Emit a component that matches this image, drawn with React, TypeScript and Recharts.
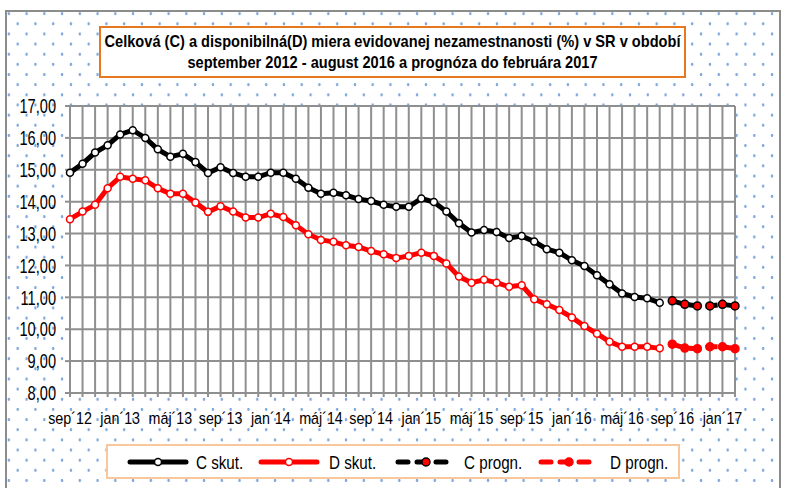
import { LineChart, Line, XAxis, YAxis, CartesianGrid } from 'recharts';

const months = ['sep', 'okt', 'nov', 'dec', 'jan', 'feb', 'mar', 'apr', 'máj', 'jún', 'júl', 'aug'];
const startYear = 12;
const monthCount = 54;

const categories: string[] = Array.from({ length: monthCount }, (_, i) => {
  const m = months[i % 12];
  const yr = startYear + Math.floor((i + 8) / 12);
  return `${m}´${yr}`;
});

// sep 2012 – aug 2016
const cSkut = [
  14.91, 15.19, 15.54, 15.77, 16.11, 16.24, 16.0, 15.64, 15.41, 15.5, 15.24, 14.9,
  15.08, 14.9, 14.78, 14.78, 14.91, 14.91, 14.72, 14.44, 14.25, 14.28, 14.2, 14.08,
  14.02, 13.9, 13.84, 13.84, 14.1, 13.99, 13.69, 13.32, 13.03, 13.11, 13.05, 12.86,
  12.92, 12.75, 12.51, 12.4, 12.16, 11.98, 11.69, 11.41, 11.12, 11.01, 10.97, 10.83,
];
const dSkut = [
  13.45, 13.69, 13.9, 14.42, 14.78, 14.72, 14.67, 14.42, 14.25, 14.25, 13.97, 13.68,
  13.86, 13.69, 13.5, 13.5, 13.62, 13.52, 13.26, 12.98, 12.8, 12.74, 12.63, 12.58,
  12.45, 12.35, 12.23, 12.3, 12.4, 12.3, 12.06, 11.65, 11.46, 11.55, 11.46, 11.33,
  11.38, 10.94, 10.78, 10.6, 10.37, 10.1, 9.86, 9.61, 9.45, 9.45, 9.45, 9.4,
];
// sep 2016 – feb 2017
const cProgn = [10.89, 10.78, 10.73, 10.73, 10.78, 10.73];
const dProgn = [9.53, 9.41, 9.39, 9.45, 9.45, 9.39];

const yTicks = [8, 9, 10, 11, 12, 13, 14, 15, 16, 17];

const titleLines = [
  'Celková (C) a disponibilná(D) miera evidovanej nezamestnanosti (%) v SR v období',
  'september 2012 - august 2016 a prognóza do februára 2017',
];

const data = categories.map((name, i) => ({
  name,
  cSkut: i < cSkut.length ? cSkut[i] : null,
  dSkut: i < dSkut.length ? dSkut[i] : null,
  cProgn: i >= cSkut.length ? cProgn[i - cSkut.length] : null,
  dProgn: i >= dSkut.length ? dProgn[i - dSkut.length] : null,
}));

const FONT = '"Liberation Sans", Arial, sans-serif';
const GRID = '#8f8f8f';

// no narrow font installed, so squeeze the glyphs horizontally
const XTick = (props: any) => {
  const { x, y, payload, index } = props;
  if (index % 4 !== 0) return null;
  return (
    <text
      transform={`translate(${x},${y}) scale(0.84,1)`}
      dy="0.71em"
      textAnchor="middle"
      fontSize={17}
      fill="#000"
      fontFamily={FONT}
    >
      {payload.value}
    </text>
  );
};

const YTick = (props: any) => {
  const { x, y, payload } = props;
  return (
    <text
      transform={`translate(${x},${y}) scale(0.73,1)`}
      dy="0.36em"
      textAnchor="end"
      fontSize={20}
      fill="#000"
      fontFamily={FONT}
    >
      {payload.value.toFixed(2).replace('.', ',')}
    </text>
  );
};

const legendItems = [
  { label: 'C skut.', color: '#000', dash: false, dotFill: '#fff', x: 24, tx: 90 },
  { label: 'D skut.', color: '#ff0000', dash: false, dotFill: '#fff', x: 155, tx: 223 },
  { label: 'C progn.', color: '#000', dash: true, dotFill: '#ff0000', x: 292, tx: 358 },
  { label: 'D progn.', color: '#ff0000', dash: true, dotFill: '#ff0000', x: 435, tx: 504 },
];

export default function App() {
  return (
    <div
      style={{
        position: 'absolute',
        left: 0,
        top: 0,
        width: 785,
        height: 488,
        background: '#fff',
        overflow: 'hidden',
        fontFamily: FONT,
      }}
    >
      <div
        style={{
          position: 'absolute',
          left: 5,
          top: 10,
          width: 772,
          height: 500,
          border: '2px solid #8c8c8c',
          backgroundColor: '#fff',
          backgroundImage:
            'radial-gradient(circle, #7ea7dc 1.1px, transparent 1.6px), radial-gradient(circle, #7ea7dc 1.1px, transparent 1.6px)',
          backgroundSize: '17.76px 20.3px, 17.76px 20.3px',
          backgroundPosition: '1.8px 1.6px, 10.7px 11.8px',
        }}
      />
      <div style={{ position: 'absolute', left: 0, top: 0 }}>
        <LineChart width={785} height={488} data={data} margin={{ top: 106, right: 50, bottom: 0, left: 0 }}>
          <CartesianGrid stroke={GRID} strokeWidth={2} fill="#fff" />
          <XAxis
            dataKey="name"
            interval={0}
            tick={<XTick />}
            tickSize={4}
            tickMargin={15}
            height={95}
            stroke={GRID}
            strokeWidth={2}
          />
          <YAxis
            domain={[8, 17]}
            ticks={yTicks}
            width={70}
            tickSize={5}
            tickMargin={9}
            stroke={GRID}
            strokeWidth={2}
            tick={<YTick />}
          />
          <Line
            dataKey="cSkut"
            stroke="#000"
            strokeWidth={5}
            dot={{ r: 3.5, fill: '#fff', stroke: '#000', strokeWidth: 1.5 }}
            isAnimationActive={false}
          />
          <Line
            dataKey="dSkut"
            stroke="#ff0000"
            strokeWidth={5}
            dot={{ r: 3.5, fill: '#fff', stroke: '#ff0000', strokeWidth: 1.5 }}
            isAnimationActive={false}
          />
          <Line
            dataKey="cProgn"
            stroke="#000"
            strokeWidth={5}
            strokeDasharray="12 5"
            dot={{ r: 4, fill: '#ff0000', stroke: '#000', strokeWidth: 1.5, strokeDasharray: '' }}
            isAnimationActive={false}
          />
          <Line
            dataKey="dProgn"
            stroke="#ff0000"
            strokeWidth={5}
            strokeDasharray="12 5"
            dot={{ r: 4, fill: '#ff0000', stroke: '#ff0000', strokeWidth: 1.5, strokeDasharray: '' }}
            isAnimationActive={false}
          />
        </LineChart>
      </div>
      <svg width={785} height={90} style={{ position: 'absolute', left: 0, top: 0 }}>
        <rect x={100} y={27} width={585} height={50} fill="#fff" stroke="#e8781f" strokeWidth={2} />
        <text
          x={392.5}
          y={47}
          textAnchor="middle"
          fontSize={17}
          fontWeight="bold"
          fontFamily={FONT}
          textLength={576}
          lengthAdjust="spacingAndGlyphs"
        >
          {titleLines[0]}
        </text>
        <text
          x={392.5}
          y={68}
          textAnchor="middle"
          fontSize={17}
          fontWeight="bold"
          fontFamily={FONT}
          textLength={410}
          lengthAdjust="spacingAndGlyphs"
        >
          {titleLines[1]}
        </text>
      </svg>
      <svg width={574} height={35} style={{ position: 'absolute', left: 106, top: 444 }}>
        <rect x={1} y={1} width={572} height={33} fill="#fff" stroke="#f8c79d" strokeWidth={2} />
        {legendItems.map((it) => (
          <g key={it.label}>
            <line
              x1={it.x}
              x2={it.x + 56}
              y1={18}
              y2={18}
              stroke={it.color}
              strokeWidth={5}
              strokeLinecap="round"
              strokeDasharray={it.dash ? '10 9' : undefined}
            />
            <circle
              cx={it.x + 28}
              cy={18}
              r={it.dash ? 4 : 3.5}
              fill={it.dotFill}
              stroke={it.color}
              strokeWidth={1.5}
            />
            <text
              transform={`translate(${it.tx},25) scale(0.8,1)`}
              fontSize={19}
              fontFamily={FONT}
              fill="#000"
            >
              {it.label}
            </text>
          </g>
        ))}
      </svg>
    </div>
  );
}
